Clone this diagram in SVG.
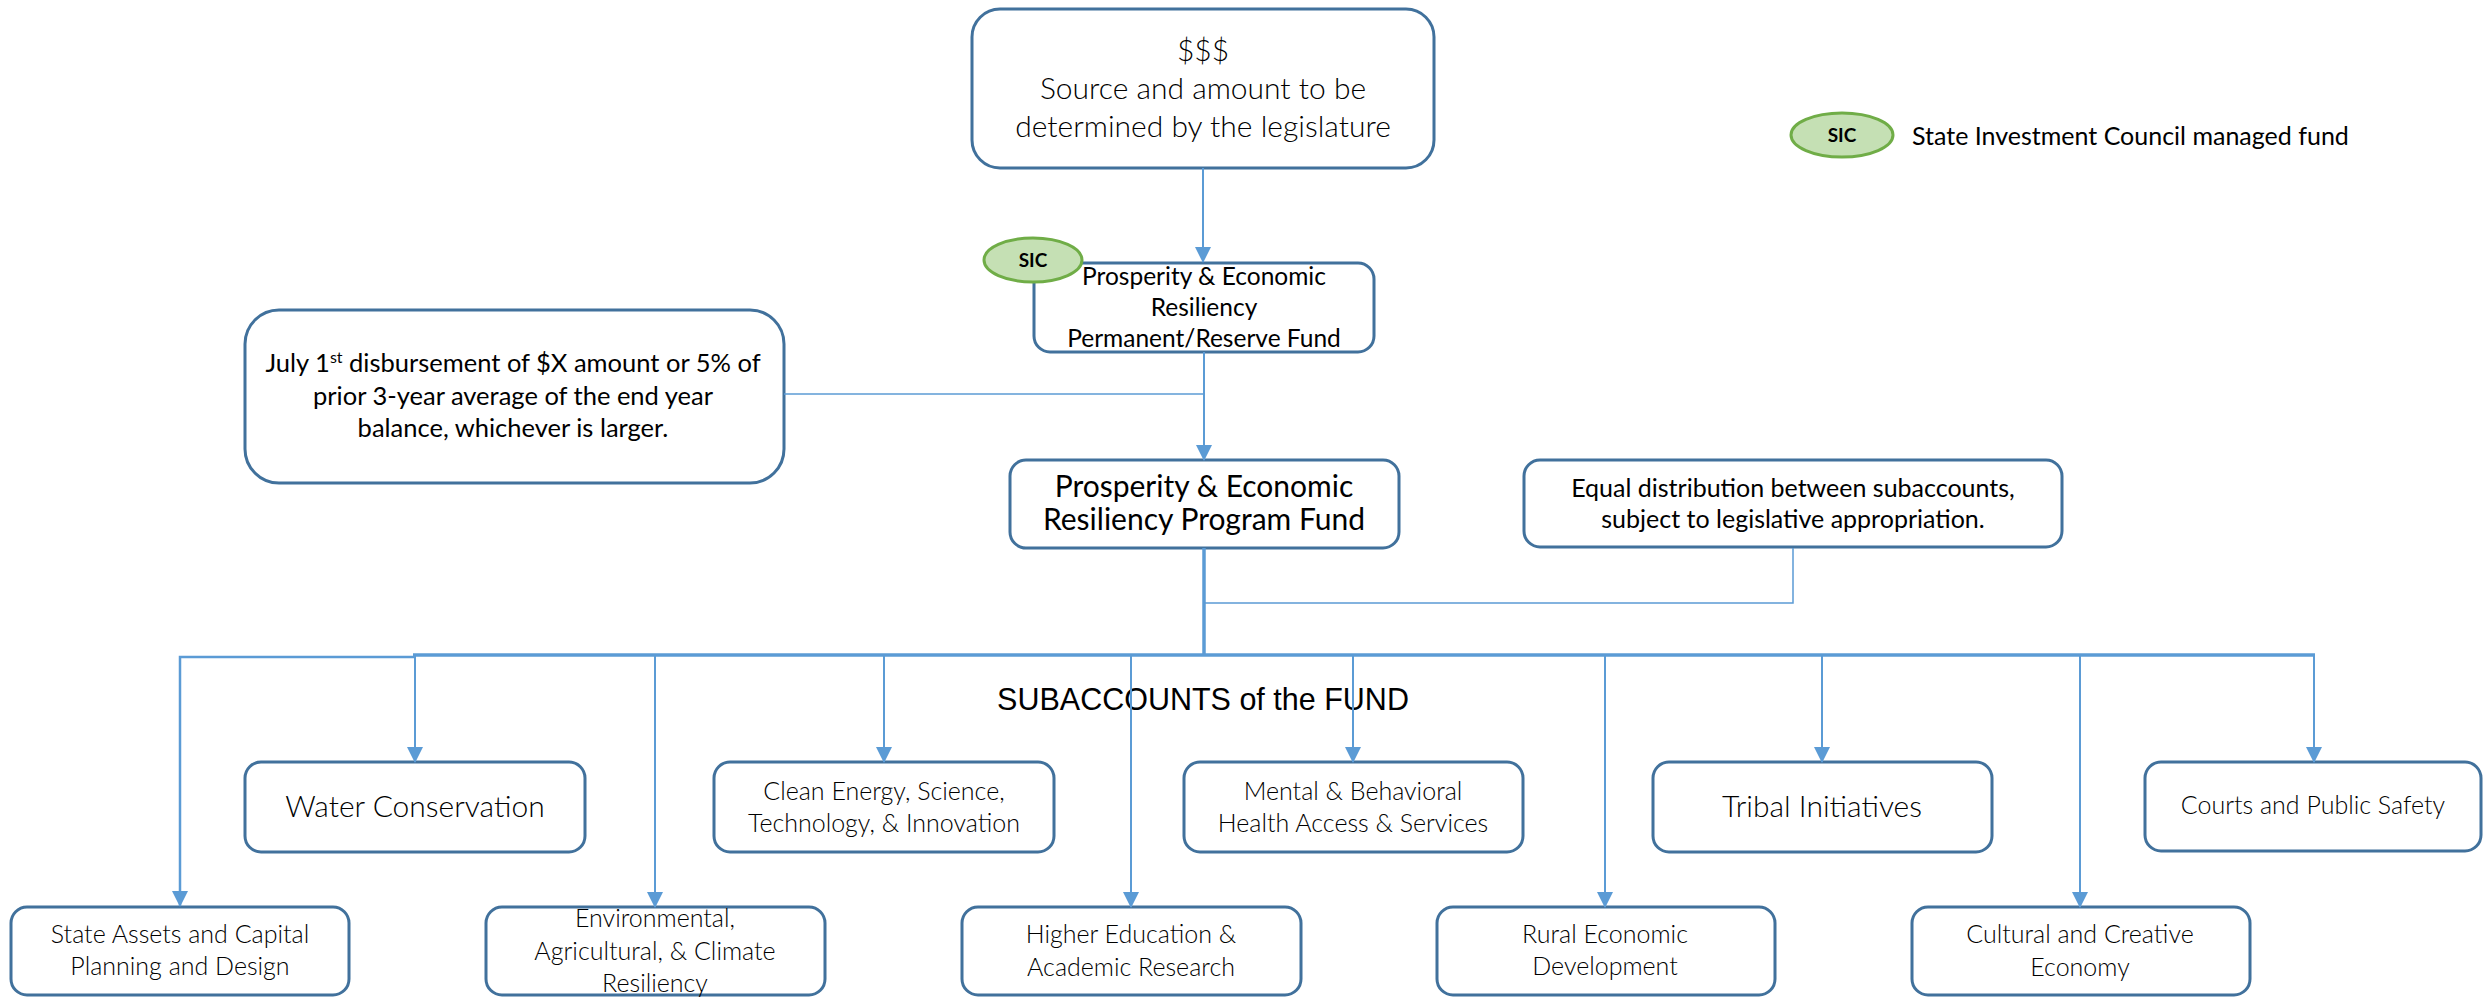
<svg xmlns="http://www.w3.org/2000/svg" width="2483" height="998" viewBox="0 0 2483 998">
<defs>
<marker id="arr" markerUnits="userSpaceOnUse" markerWidth="16" markerHeight="16" refX="15" refY="8" orient="auto">
<path d="M0,0 L16,8 L0,16 z" fill="#5b9bd5"/>
</marker>
<style>
.box{fill:#fff;stroke:#41719c;stroke-width:3}
.sic{fill:#c5e0b4;stroke:#70ad47;stroke-width:3}
.t{font-family:Lato,"Liberation Sans",sans-serif;fill:#000;text-anchor:middle}
.lt{font-weight:300}
.c{fill:none;stroke:#5b9bd5;stroke-width:2}
.thin{fill:none;stroke:#5b9bd5;stroke-width:1.5}
.thick{fill:none;stroke:#5b9bd5;stroke-width:3.5}
.s31{font-size:30px}
.sub{font-size:25px;font-weight:300}
.subL{font-size:30px;font-weight:300}
</style>
</defs>
<rect width="2483" height="998" fill="#fff"/>

<g id="source">
<rect class="box" x="972" y="9" width="462" height="159" rx="28"/>
<text class="t lt s31" x="1203" y="61">$$$</text>
<text class="t lt s31" x="1203" y="99">Source and amount to be</text>
<text class="t lt s31" x="1203" y="137">determined by the legislature</text>
</g>

<g id="legend">
<ellipse class="sic" cx="1842" cy="135" rx="51" ry="22"/>
<text class="t" x="1842" y="142" style="font-size:19px;font-weight:700">SIC</text>
<text class="t" x="1912" y="145" style="font-size:25px;text-anchor:start">State Investment Council managed fund</text>
</g>

<g id="permanent">
<rect class="box" x="1034" y="263" width="340" height="89" rx="16"/>
<text class="t" x="1204" y="285" style="font-size:24.5px">Prosperity &amp; Economic</text>
<text class="t" x="1204" y="316" style="font-size:24.5px">Resiliency</text>
<text class="t" x="1204" y="347" style="font-size:24.5px">Permanent/Reserve Fund</text>
<ellipse class="sic" cx="1033" cy="260" rx="49" ry="22"/>
<text class="t" x="1033" y="267" style="font-size:19px;font-weight:700">SIC</text>
</g>

<g id="july">
<rect class="box" x="245" y="310" width="539" height="173" rx="34"/>
<text class="t" x="513" y="372" style="font-size:25.5px">July 1<tspan dy="-9" style="font-size:16px">st</tspan><tspan dy="9"> disbursement of $X amount or 5% of</tspan></text>
<text class="t" x="513" y="405" style="font-size:25.5px">prior 3-year average of the end year</text>
<text class="t" x="513" y="437" style="font-size:25.5px">balance, whichever is larger.</text>
</g>

<g id="program">
<rect class="box" x="1010" y="460" width="389" height="88" rx="16"/>
<text class="t s31" x="1204" y="497">Prosperity &amp; Economic</text>
<text class="t s31" x="1204" y="530">Resiliency Program Fund</text>
</g>

<g id="equal">
<rect class="box" x="1524" y="460" width="538" height="87" rx="16"/>
<text class="t" x="1793" y="497" style="font-size:25px">Equal distribution between subaccounts,</text>
<text class="t" x="1793" y="528" style="font-size:25px">subject to legislative appropriation.</text>
</g>

<g id="title">
<text x="1203" y="710" style="font-family:'Liberation Sans',Arial,sans-serif;font-size:30.5px;text-anchor:middle;fill:#000">SUBACCOUNTS of the FUND</text>
</g>

<g id="water">
<rect class="box" x="245" y="762" width="340" height="90" rx="16"/>
<text class="t subL" x="415" y="817">Water Conservation</text>
</g>
<g id="clean">
<rect class="box" x="714" y="762" width="340" height="90" rx="16"/>
<text class="t sub" x="884" y="800">Clean Energy, Science,</text>
<text class="t sub" x="884" y="832">Technology, &amp; Innovation</text>
</g>
<g id="mental">
<rect class="box" x="1184" y="762" width="339" height="90" rx="16"/>
<text class="t sub" x="1353" y="800">Mental &amp; Behavioral</text>
<text class="t sub" x="1353" y="832">Health Access &amp; Services</text>
</g>
<g id="tribal">
<rect class="box" x="1653" y="762" width="339" height="90" rx="16"/>
<text class="t subL" x="1822" y="817">Tribal Initiatives</text>
</g>
<g id="courts">
<rect class="box" x="2145" y="762" width="336" height="89" rx="16"/>
<text class="t sub" x="2313" y="814">Courts and Public Safety</text>
</g>

<g id="state">
<rect class="box" x="11" y="907" width="338" height="88" rx="16"/>
<text class="t sub" x="180" y="943">State Assets and Capital</text>
<text class="t sub" x="180" y="975">Planning and Design</text>
</g>
<g id="environmental">
<rect class="box" x="486" y="907" width="339" height="88" rx="16"/>
<text class="t sub" x="655" y="927">Environmental,</text>
<text class="t sub" x="655" y="960">Agricultural, &amp; Climate</text>
<text class="t sub" x="655" y="992">Resiliency</text>
</g>
<g id="higher">
<rect class="box" x="962" y="907" width="339" height="88" rx="16"/>
<text class="t sub" x="1131" y="943">Higher Education &amp;</text>
<text class="t sub" x="1131" y="976">Academic Research</text>
</g>
<g id="rural">
<rect class="box" x="1437" y="907" width="338" height="88" rx="16"/>
<text class="t sub" x="1605" y="943">Rural Economic</text>
<text class="t sub" x="1605" y="975">Development</text>
</g>
<g id="cultural">
<rect class="box" x="1912" y="907" width="338" height="88" rx="16"/>
<text class="t sub" x="2080" y="943">Cultural and Creative</text>
<text class="t sub" x="2080" y="976">Economy</text>
</g>

<g id="connectors">
<line class="c" x1="1203" y1="168" x2="1203" y2="262" marker-end="url(#arr)"/>
<line class="c" x1="1204" y1="352" x2="1204" y2="460" marker-end="url(#arr)"/>
<line class="thin" x1="784" y1="394" x2="1204" y2="394"/>
<line class="thick" x1="1204" y1="548" x2="1204" y2="656"/>
<polyline class="thin" points="1793,548 1793,603 1204,603"/>
<polyline class="c" points="415,657 180,657 180,906" style="stroke-width:2.5" marker-end="url(#arr)"/>
<line class="thick" x1="413" y1="655" x2="2315" y2="655"/>
<line class="c" x1="415" y1="655" x2="415" y2="762" marker-end="url(#arr)"/>
<line class="c" x1="655" y1="655" x2="655" y2="907" marker-end="url(#arr)"/>
<line class="c" x1="884" y1="655" x2="884" y2="762" marker-end="url(#arr)"/>
<line class="c" x1="1131" y1="655" x2="1131" y2="907" marker-end="url(#arr)"/>
<line class="c" x1="1353" y1="655" x2="1353" y2="762" marker-end="url(#arr)"/>
<line class="c" x1="1605" y1="655" x2="1605" y2="907" marker-end="url(#arr)"/>
<line class="c" x1="1822" y1="655" x2="1822" y2="762" marker-end="url(#arr)"/>
<line class="c" x1="2080" y1="655" x2="2080" y2="907" marker-end="url(#arr)"/>
<line class="c" x1="2314" y1="655" x2="2314" y2="762" marker-end="url(#arr)"/>
</g>
</svg>
